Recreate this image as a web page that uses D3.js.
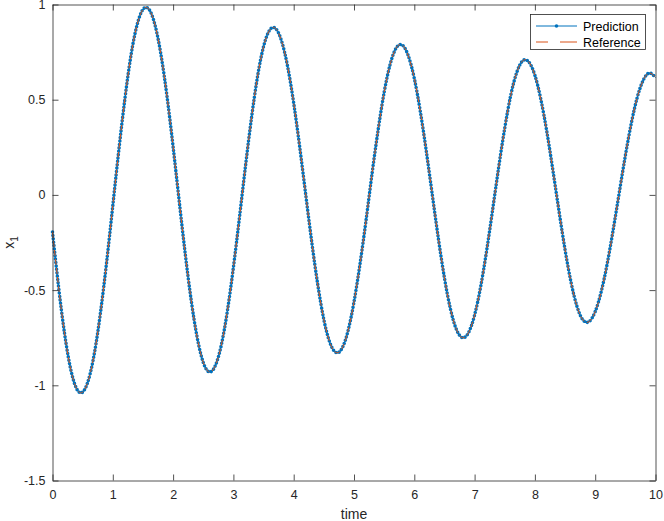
<!DOCTYPE html>
<html>
<head>
<meta charset="utf-8">
<script src="https://cdn.jsdelivr.net/npm/d3@7"></script>
<style>
  body { margin: 0; background: #fff; }
  svg { display: block; font-family: "Liberation Sans", Arial, Helvetica, sans-serif; }
</style>
</head>
<body>
<div id="vis"></div>
<script>
// sample times (s)
var time = [0.0, 0.1, 0.2, 0.3, 0.4, 0.5, 0.6, 0.7, 0.8, 0.9,
  1.0, 1.1, 1.2, 1.3, 1.4, 1.5, 1.6, 1.7, 1.8, 1.9,
  2.0, 2.1, 2.2, 2.3, 2.4, 2.5, 2.6, 2.7, 2.8, 2.9,
  3.0, 3.1, 3.2, 3.3, 3.4, 3.5, 3.6, 3.7, 3.8, 3.9,
  4.0, 4.1, 4.2, 4.3, 4.4, 4.5, 4.6, 4.7, 4.8, 4.9,
  5.0, 5.1, 5.2, 5.3, 5.4, 5.5, 5.6, 5.7, 5.8, 5.9,
  6.0, 6.1, 6.2, 6.3, 6.4, 6.5, 6.6, 6.7, 6.8, 6.9,
  7.0, 7.1, 7.2, 7.3, 7.4, 7.5, 7.6, 7.7, 7.8, 7.9,
  8.0, 8.1, 8.2, 8.3, 8.4, 8.5, 8.6, 8.7, 8.8, 8.9,
  9.0, 9.1, 9.2, 9.3, 9.4, 9.5, 9.6, 9.7, 9.8, 9.9, 10.0]

// x1
var prediction = [-0.195, -0.481, -0.728, -0.913, -1.018, -1.036, -0.968, -0.822, -0.608, -0.347,
  -0.057, 0.235, 0.503, 0.730, 0.890, 0.974, 0.975, 0.892, 0.734, 0.515,
  0.253, -0.029, -0.306, -0.553, -0.750, -0.880, -0.930, -0.897, -0.788, -0.610,
  -0.381, -0.120, 0.150, 0.404, 0.621, 0.779, 0.865, 0.874, 0.807, 0.673,
  0.482, 0.251, 0.000, -0.249, -0.473, -0.655, -0.776, -0.828, -0.807, -0.715,
  -0.562, -0.362, -0.133, 0.113, 0.341, 0.539, 0.686, 0.772, 0.787, 0.731,
  0.612, 0.438, 0.227, -0.003, -0.231, -0.436, -0.600, -0.708, -0.750, -0.723,
  -0.631, -0.483, -0.292, -0.076, 0.146, 0.351, 0.524, 0.644, 0.705, 0.698,
  0.628, 0.500, 0.328, 0.126, -0.086, -0.288, -0.460, -0.588, -0.658, -0.665,
  -0.613, -0.508, -0.360, -0.180, 0.014, 0.206, 0.378, 0.515, 0.605, 0.640, 0.616]

// reference overlaps the prediction at this scale
var reference = [-0.195, -0.481, -0.728, -0.913, -1.018, -1.036, -0.968, -0.822, -0.608, -0.347,
  -0.057, 0.235, 0.503, 0.730, 0.890, 0.974, 0.975, 0.892, 0.734, 0.515,
  0.253, -0.029, -0.306, -0.553, -0.750, -0.880, -0.930, -0.897, -0.788, -0.610,
  -0.381, -0.120, 0.150, 0.404, 0.621, 0.779, 0.865, 0.874, 0.807, 0.673,
  0.482, 0.251, 0.000, -0.249, -0.473, -0.655, -0.776, -0.828, -0.807, -0.715,
  -0.562, -0.362, -0.133, 0.113, 0.341, 0.539, 0.686, 0.772, 0.787, 0.731,
  0.612, 0.438, 0.227, -0.003, -0.231, -0.436, -0.600, -0.708, -0.750, -0.723,
  -0.631, -0.483, -0.292, -0.076, 0.146, 0.351, 0.524, 0.644, 0.705, 0.698,
  0.628, 0.500, 0.328, 0.126, -0.086, -0.288, -0.460, -0.588, -0.658, -0.665,
  -0.613, -0.508, -0.360, -0.180, 0.014, 0.206, 0.378, 0.515, 0.605, 0.640, 0.616]

var xTicks = [0, 1, 2, 3, 4, 5, 6, 7, 8, 9, 10]
var yTicks = [-1.5, -1, -0.5, 0, 0.5, 1]
var seriesNames = ["Prediction", "Reference"]

// NB: "top" is window.top, so use plot* names
var width = 664,
    height = 521,
    plotLeft = 52.5, plotRight = 655.5, plotTop = 4.5, plotBottom = 480.5,
    axisColor = "#262626",
    blue = "#0072BD",
    orange = "#D95319";

var svg = d3.select("#vis").append("svg")
    .attr("width", width)
    .attr("height", height)

var x = d3.scaleLinear().domain([0, 10]).range([plotLeft, plotRight])
var y = d3.scaleLinear().domain([-1.5, 1]).range([plotBottom, plotTop])

var predData = time.map(function(t, i) { return [t, prediction[i]] })
var refData = time.map(function(t, i) { return [t, reference[i]] })

var line = d3.line()
    .x(function(d) { return x(d[0]) })
    .y(function(d) { return y(d[1]) })
    .curve(d3.curveNatural)

// prediction: thin line + dense dot markers
svg.append("path")
    .datum(predData)
    .attr("d", line)
    .attr("fill", "none")
    .attr("stroke", blue)
    .attr("stroke-width", 1)

svg.append("path")
    .datum(predData)
    .attr("d", line)
    .attr("fill", "none")
    .attr("stroke", blue)
    .attr("stroke-width", 3.6)
    .attr("stroke-linecap", "round")
    .attr("stroke-dasharray", "0 3.4")

// reference: dashed orange on top
svg.append("path")
    .datum(refData)
    .attr("d", line)
    .attr("fill", "none")
    .attr("stroke", orange)
    .attr("stroke-width", 1)
    .attr("stroke-dasharray", "6 3")

// axes (ticks inside, box all round)
function styleAxis(g) {
  g.selectAll(".domain").attr("stroke", axisColor).attr("stroke-width", 0.8).attr("fill", "none")
  g.selectAll(".tick line").attr("stroke", axisColor).attr("stroke-width", 0.8)
  g.selectAll("text")
      .attr("fill", axisColor)
      .style("font-size", "12.5px")
      .style("font-family", "'Liberation Sans', Arial, sans-serif")
}

svg.append("g")
    .attr("transform", "translate(0," + plotBottom + ")")
    .call(d3.axisBottom(x).tickValues(xTicks).tickSize(-6).tickSizeOuter(0).tickPadding(10)
      .tickFormat(function(d) { return String(d) }))
    .call(styleAxis)

svg.append("g")
    .attr("transform", "translate(0," + plotTop + ")")
    .call(d3.axisTop(x).tickValues(xTicks).tickSize(-6).tickSizeOuter(0).tickFormat(""))
    .call(styleAxis)

svg.append("g")
    .attr("transform", "translate(" + plotLeft + ",0)")
    .call(d3.axisLeft(y).tickValues(yTicks).tickSize(-6).tickSizeOuter(0).tickPadding(7)
      .tickFormat(function(d) { return String(d) }))
    .call(styleAxis)

svg.append("g")
    .attr("transform", "translate(" + plotRight + ",0)")
    .call(d3.axisRight(y).tickValues(yTicks).tickSize(-6).tickSizeOuter(0).tickFormat(""))
    .call(styleAxis)

// axis labels
svg.append("text")
    .attr("x", (plotLeft + plotRight) / 2)
    .attr("y", 519)
    .attr("text-anchor", "middle")
    .attr("fill", axisColor)
    .style("font-size", "14px")
    .text("time")

var yl = svg.append("text")
    .attr("transform", "translate(14," + ((plotTop + plotBottom) / 2) + ") rotate(-90)")
    .attr("text-anchor", "middle")
    .attr("fill", axisColor)
    .style("font-size", "14px")
yl.append("tspan").text("x")
yl.append("tspan").attr("dy", 4).style("font-size", "10px").text("1")

// legend
var legend = svg.append("g")

legend.append("rect")
    .attr("x", 530.5)
    .attr("y", 14.5)
    .attr("width", 115)
    .attr("height", 35)
    .attr("fill", "#fff")
    .attr("stroke", axisColor)
    .attr("stroke-width", 0.8)

var legendY = [26, 42]

legend.append("line")
    .attr("x1", 536).attr("x2", 577)
    .attr("y1", legendY[0]).attr("y2", legendY[0])
    .attr("stroke", blue).attr("stroke-width", 1)

legend.append("circle")
    .attr("cx", 556.5).attr("cy", legendY[0]).attr("r", 1.8)
    .attr("fill", blue)

legend.append("line")
    .attr("x1", 536).attr("x2", 577)
    .attr("y1", legendY[1]).attr("y2", legendY[1])
    .attr("stroke", orange).attr("stroke-width", 1)
    .attr("stroke-dasharray", "12 12 20")

legend.selectAll("text.lbl")
    .data(seriesNames)
    .enter()
    .append("text")
    .attr("class", "lbl")
    .attr("x", 583)
    .attr("y", function(d, i) { return legendY[i] + 4.5 })
    .attr("fill", "#000")
    .style("font-size", "12.5px")
    .text(function(d) { return d })
</script>
</body>
</html>
